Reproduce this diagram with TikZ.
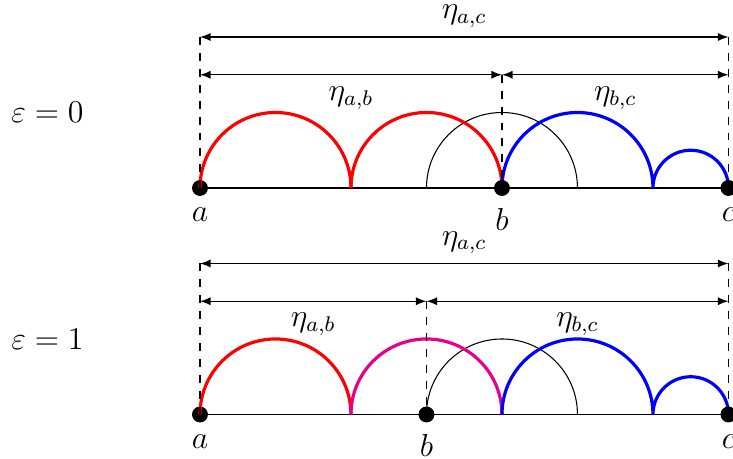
\documentclass[tikz,border=0pt]{standalone}
\usepackage{amsmath}
\usepackage{amssymb}
\usepackage{tikz}
\definecolor{hotpink}{RGB}{230,0,140}

\begin{document}
\begin{tikzpicture}[>=latex, font=\large]
        \useasboundingbox (-2.649,-3.583) rectangle (7.06,2.49);
        \foreach \y/\b/\col/\e in {0/4/red/0, -3/3/hotpink/1}{
            \coordinate (a\e) at (0,\y);
            \coordinate (b\e) at (\b,\y);
            \coordinate (c\e) at (7,\y);
            \coordinate (at\e) at (0,\y+2);
            \coordinate (ct\e) at (7,\y+2);
            \coordinate (am\e) at (0,\y+1.5);
            \coordinate (bm\e) at (\b,\y+1.5);
            \coordinate (cm\e) at (7,\y+1.5);
            \draw (a\e) -- (c\e);
            \draw[thin] (3,\y) arc (180:0:1);
            \fill (a\e) circle (3pt);
            \draw[red,very thick] (a\e) arc (180:0:1);
            \draw[\col,very thick] (2,\y) arc (180:0:1);
            \draw[blue,very thick] (4,\y) arc (180:0:1) arc (180:0:0.5);
            \draw[dashed] (at\e) -- (a\e);
            \draw[dashed] (ct\e) -- (c\e);
            \draw[dashed] (bm\e) -- (b\e);
            \draw[<->] (at\e) -- node[above] (eac\e) {$\eta_{a,c}$} (ct\e);
            \draw[<->] (am\e) -- node[below=1pt] (eab\e) {$\eta_{a,b}$} (bm\e);
            \draw[<->] (bm\e) -- node[below=1pt] (ebc\e) {$\eta_{b,c}$} (cm\e);
            \fill (b\e) circle (3pt);
            \fill (c\e) circle (3pt);
            \foreach \p in {a,b,c}
                \node[below=4pt] (l\p\e) at (\p\e) {$\p$};
            \node (eps\e) at (-2.02,\y+1) {$\varepsilon=\e$};
        }
    \end{tikzpicture}
\end{document}
